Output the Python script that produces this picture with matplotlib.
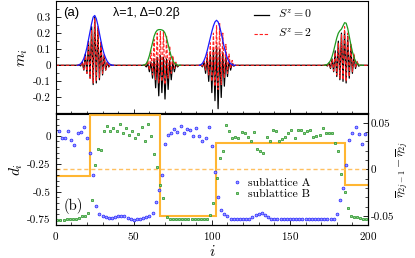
import numpy as np
import matplotlib
matplotlib.use("Agg")
import matplotlib.pyplot as plt
from matplotlib.ticker import MultipleLocator, FixedLocator, FuncFormatter

plt.rcParams['font.family'] = ['cmr10', 'DejaVu Serif']
plt.rcParams['mathtext.fontset'] = 'cm'
plt.rcParams['axes.unicode_minus'] = False
plt.rcParams['axes.formatter.use_mathtext'] = True

# ---------------- data: panel (a) ----------------
n_sites = 201
# peak segments: start site, envelope, S^z=0 (black), S^z=2 (red)
p1_start = 14
p1_env = [0, 0.003, 0.01, 0.022, 0.042, 0.072, 0.11, 0.16, 0.21, 0.26, 0.30, 0.31,
          0.29, 0.25, 0.20, 0.15, 0.105, 0.07, 0.045, 0.025, 0.012, 0.005, 0.001, 0]
p1_s0 = [0, 0.002, -0.004, 0.02, -0.03, 0.07, -0.05, 0.15, -0.08, 0.24, -0.12, 0.30,
         -0.11, 0.23, -0.09, 0.14, -0.06, 0.06, -0.03, 0.02, -0.01, 0.004, 0, 0]
p1_s2 = [0, 0.002, -0.003, 0.02, -0.025, 0.06, -0.05, 0.14, -0.08, 0.22, -0.11, 0.29,
         -0.10, 0.24, -0.08, 0.15, -0.05, 0.07, -0.03, 0.025, -0.01, 0.005, 0, 0]

p2_start = 56
p2_env = [0, 0.003, 0.01, 0.03, 0.06, 0.10, 0.14, 0.18, 0.205, 0.218, 0.222, 0.222, 0.22,
          0.215, 0.20, 0.17, 0.13, 0.09, 0.055, 0.03, 0.014, 0.005, 0.001, 0, 0]
p2_s0 = [0, 0.002, -0.01, 0.01, -0.04, 0.02, -0.08, 0.04, -0.14, 0.05, -0.19, 0.06, -0.17,
         0.05, -0.21, 0.04, -0.15, 0.03, -0.09, 0.02, -0.04, 0.01, -0.01, 0, 0]
p2_s2 = [0, 0.003, -0.005, 0.03, -0.03, 0.09, -0.06, 0.16, -0.09, 0.20, -0.11, 0.21, -0.10,
         0.21, -0.12, 0.18, -0.08, 0.12, -0.05, 0.06, -0.02, 0.02, -0.005, 0, 0]

p3_start = 92
p3_env = [0, 0.004, 0.012, 0.03, 0.055, 0.09, 0.13, 0.17, 0.21, 0.245, 0.27, 0.28,
          0.27, 0.24, 0.20, 0.155, 0.11, 0.072, 0.043, 0.022, 0.01, 0.004, 0.001, 0]
p3_s0 = [0, 0.002, -0.01, 0.02, -0.05, 0.05, -0.10, 0.08, -0.17, 0.10, -0.22, 0.12,
         -0.27, 0.10, -0.20, 0.08, -0.13, 0.05, -0.07, 0.03, -0.03, 0.01, -0.005, 0]
p3_s2 = [0, 0.003, -0.005, 0.025, -0.03, 0.08, -0.06, 0.14, -0.10, 0.20, -0.13, 0.25,
         -0.15, 0.26, -0.12, 0.20, -0.08, 0.13, -0.05, 0.07, -0.02, 0.03, -0.005, 0]

p4_start = 172
p4_env = [0, 0.002, 0.006, 0.015, 0.03, 0.055, 0.09, 0.13, 0.17, 0.20, 0.215, 0.225, 0.245,
          0.265, 0.262, 0.23, 0.18, 0.13, 0.085, 0.05, 0.025, 0.01, 0.003, 0, 0, 0]
p4_s0 = [0, 0.002, -0.004, 0.015, -0.02, 0.04, -0.04, 0.09, -0.07, 0.15, -0.09, 0.20, -0.10,
         0.21, -0.11, 0.18, -0.08, 0.12, -0.05, 0.06, -0.02, 0.02, -0.005, 0, 0, 0]
p4_s2 = [0, 0.002, -0.003, 0.012, -0.015, 0.035, -0.035, 0.08, -0.06, 0.14, -0.08, 0.19, -0.09,
         0.24, -0.10, 0.20, -0.07, 0.13, -0.04, 0.07, -0.015, 0.025, -0.003, 0, 0, 0]

# ---------------- data: panel (b) ----------------
sites_A = list(range(2, 200, 2))
d_A = [0.04, -0.02, -0.015, 0.04, -0.035, -0.085, 0.03, 0.033, 0.083, -0.015,
       -0.155, -0.354, -0.63, -0.70, -0.72, -0.73, -0.735, -0.735, -0.73, -0.72,
       -0.715, -0.72, -0.735, -0.74, -0.75, -0.745, -0.74, -0.735, -0.73, -0.72,
       -0.69, -0.59, -0.48, -0.35, -0.07, 0.01, 0.025, 0.06, 0.035, 0.09,
       0.025, 0.06, 0.048, -0.005, 0.068, 0.003, -0.042, -0.015, 0.077, -0.09,
       -0.32, -0.55, -0.66, -0.70, -0.72, -0.74, -0.745, -0.745, -0.745, -0.745,
       -0.745, -0.74, -0.73, -0.71, -0.695, -0.69, -0.71, -0.73, -0.74, -0.745,
       -0.745, -0.745, -0.745, -0.745, -0.745, -0.745, -0.745, -0.745, -0.745, -0.745,
       -0.745, -0.745, -0.745, -0.745, -0.745, -0.745, -0.745, -0.745, -0.74, -0.70,
       -0.57, -0.47, -0.26, -0.035, 0.025, 0.077, 0.02, -0.075, 0.02]
sites_B = list(range(1, 200, 2))
d_B = [-0.753, -0.75, -0.75, -0.748, -0.745, -0.745, -0.742, -0.735, -0.72, -0.715,
       -0.69, -0.57, -0.26, -0.116, -0.125, 0.04, 0.092, 0.04, 0.068, 0.045,
       0.104, 0.024, 0.074, 0.009, 0.04, -0.015, 0.015, 0.083, -0.042, 0.104,
       0.003, -0.16, -0.28, -0.44, -0.56, -0.726, -0.745, -0.74, -0.745, -0.74,
       -0.745, -0.74, -0.742, -0.745, -0.74, -0.745, -0.742, -0.74, -0.74, -0.71,
       -0.60, -0.38, -0.20, -0.134, 0.098, 0.039, -0.021, -0.012, -0.018, 0.033,
       0.03, -0.006, -0.042, 0.033, -0.116, -0.134, -0.155, -0.012, -0.048, 0.048,
       0.039, -0.048, -0.027, -0.006, 0.024, 0.048, -0.021, 0.048, 0.054, 0.024,
       0.045, 0.054, -0.006, 0.003, 0.009, 0.074, 0.03, 0.03, 0.03, -0.065,
       -0.134, -0.34, -0.50, -0.646, -0.72, -0.73, -0.73, -0.735, -0.74, -0.745]
eta_edges = [0, 22, 66.5, 102.5, 185, 200]
eta_diff = [-0.007, 0.058, -0.05, 0.028, -0.017]

# ---------------- build series ----------------
i_all = np.arange(n_sites)
m_s0 = np.zeros(n_sites)
m_s2 = np.zeros(n_sites)
peaks = [(p1_start, p1_env, p1_s0, p1_s2, 'blue'),
         (p2_start, p2_env, p2_s0, p2_s2, 'green'),
         (p3_start, p3_env, p3_s0, p3_s2, 'blue'),
         (p4_start, p4_env, p4_s0, p4_s2, 'green')]
for st, env, s0, s2, c in peaks:
    m_s0[st:st + len(s0)] = s0
    m_s2[st:st + len(s2)] = s2

fig = plt.figure(figsize=(4.15, 2.58), dpi=100)
L, R = 55.7 / 415, 368 / 415
ax1 = fig.add_axes([L, 1 - 113.5 / 258, R - L, (113.5 - 1) / 258])
ax = fig.add_axes([L, 1 - 225.3 / 258, R - L, (225.3 - 113.5) / 258])

env_cols = {'blue': '#1a1aff', 'green': '#1f9a1f'}
ax1.plot(i_all, m_s0, color='black', lw=0.9, label=r'$S^z=0$')
ax1.plot(i_all, m_s2, color='#ff2020', lw=0.8, ls=(0, (3, 1.6)), label=r'$S^z=2$')
for st, env, s0, s2, c in peaks:
    ax1.plot(np.arange(st, st + len(env)), env, color=env_cols[c], lw=0.9)
ax1.set_xlim(0, 200)
ax1.set_ylim(-0.3, 0.4)
ax1.xaxis.set_major_locator(MultipleLocator(50))
ax1.xaxis.set_minor_locator(MultipleLocator(10))
ax1.yaxis.set_major_locator(FixedLocator([-0.2, -0.1, 0, 0.1, 0.2, 0.3]))
ax1.yaxis.set_minor_locator(MultipleLocator(0.05))
ax1.yaxis.set_major_formatter(FuncFormatter(lambda v, p: '0' if abs(v) < 1e-9 else f'{v:.1f}'))
ax1.tick_params(axis='x', labelbottom=False)
ax1.tick_params(which='both', direction='in', labelsize=8)
ax1.tick_params(which='major', length=3.5, width=0.6)
ax1.tick_params(which='minor', length=2, width=0.5)
ax1.set_ylabel(r'$m_i$', fontsize=11, labelpad=2)
ax1.legend(loc='upper left', bbox_to_anchor=(0.6, 1.03), frameon=False, fontsize=8.5,
           handlelength=1.3, handletextpad=0.8, labelspacing=0.5)
ax1.text(0.025, 0.95, '(a)', transform=ax1.transAxes, ha='left', va='top',
         fontsize=9.5, family='Liberation Sans')
ax1.text(0.185, 0.95, 'λ=1, Δ=0.2β', transform=ax1.transAxes, ha='left', va='top',
         fontsize=9, family='Liberation Sans')

# panel (b)
ax.plot(sites_A, d_A, ls='none', marker='o', ms=2.0, mfc='#a0a0ff', mec='#2a2aff', mew=0.55,
        label='sublattice A')
ax.plot(sites_B, d_B, ls='none', marker='s', ms=1.9, mfc='#90d090', mec='#2a962a', mew=0.55,
        label='sublattice B')
ax.set_xlim(0, 200)
ax.set_ylim(-0.8, 0.2)
ax.xaxis.set_major_locator(MultipleLocator(50))
ax.xaxis.set_minor_locator(MultipleLocator(10))
ax.yaxis.set_major_locator(FixedLocator([-0.75, -0.5, -0.25, 0]))
ax.yaxis.set_minor_locator(MultipleLocator(0.05))
ax.yaxis.set_major_formatter(FuncFormatter(lambda v, p: '0' if abs(v) < 1e-9 else f'{v:g}'))
ax.tick_params(which='both', direction='in', labelsize=8)
ax.tick_params(which='major', length=3.5, width=0.6)
ax.tick_params(which='minor', length=2, width=0.5)
ax.set_ylabel(r'$d_i$', fontsize=11, labelpad=2)
ax.set_xlabel(r'$i$', fontsize=11, labelpad=1)
ax.text(0.025, 0.1, '(b)', transform=ax.transAxes, ha='left', va='bottom', fontsize=10.5)
ax.legend(loc='center left', bbox_to_anchor=(0.53, 0.33), frameon=False, fontsize=8.5,
          handlelength=0.8, handletextpad=0.6, labelspacing=0.1, markerscale=1.0)

ax2 = ax.twinx()
ax2.stairs(eta_diff, eta_edges, baseline=None, color='#ffb632', lw=1.5)
ax2.axhline(0, color='#ffc060', lw=1.0, ls=(0, (3, 2)))
ax2.set_ylim(-0.06, 0.06)
ax2.yaxis.set_major_locator(FixedLocator([-0.05, 0, 0.05]))
ax2.yaxis.set_minor_locator(MultipleLocator(0.01))
ax2.yaxis.set_major_formatter(FuncFormatter(lambda v, p: '0' if abs(v) < 1e-9 else f'{v:g}'))
ax2.tick_params(which='both', direction='in', labelsize=8, pad=2)
ax2.tick_params(which='major', length=3.5, width=0.6)
ax2.tick_params(which='minor', length=2, width=0.5)
ax2.set_ylabel(r'$\overline{\eta}_{2j-1}-\overline{\eta}_{2j}$', fontsize=8.5, labelpad=0)
ax.set_zorder(ax2.get_zorder() + 1)
ax.patch.set_visible(False)

for a in (ax1, ax, ax2):
    for s in a.spines.values():
        s.set_linewidth(0.8)

fig.savefig('out.png', dpi=100)
